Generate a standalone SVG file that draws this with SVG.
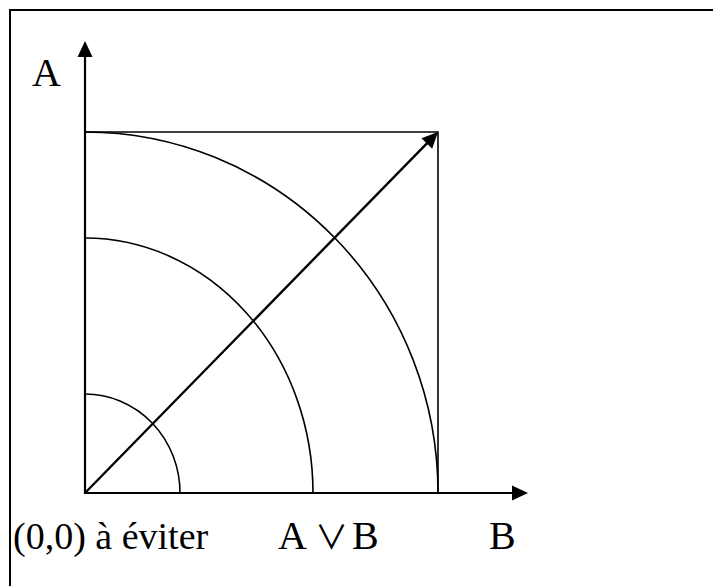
<svg xmlns="http://www.w3.org/2000/svg" width="713" height="586" viewBox="0 0 713 586">
<style>
  .frame{fill:none;stroke:#000;stroke-width:2}
  .axis{fill:none;stroke:#000;stroke-width:2.2}
  .thin{fill:none;stroke:#000;stroke-width:1.6}
  .diag{fill:none;stroke:#000;stroke-width:2.4}
  .lbl{font-family:"Liberation Serif","Times New Roman","DejaVu Serif",serif;font-size:40px;fill:#000}
  .op{font-family:"Noto Sans CJK JP","DejaVu Sans",sans-serif;font-size:33px;font-weight:400}
</style>
<defs>
  <marker id="arr" markerUnits="userSpaceOnUse" markerWidth="17" markerHeight="16" refX="4" refY="7.5" orient="auto" overflow="visible">
    <path d="M0,0 L16,7.5 L0,15 Z" fill="#000"/>
  </marker>
</defs>
<rect width="713" height="586" fill="#fff"/>
<rect class="frame" x="10" y="10" width="720" height="600"/>
<g id="connectors">
  <line id="axis-A" class="axis" x1="85" y1="494" x2="85" y2="53" marker-end="url(#arr)"/>
  <line id="axis-B" class="axis" x1="84" y1="493" x2="516" y2="493" marker-end="url(#arr)"/>
  <line id="diagonal" class="diag" x1="85" y1="493" x2="429.6" y2="140.6" marker-end="url(#arr)"/>
</g>
<g id="square">
  <path class="thin" d="M85,132 H438 V493"/>
</g>
<g id="arc-outer"><path class="thin" d="M85,132 A353,361 0 0 1 438,493"/></g>
<g id="arc-middle"><path class="thin" d="M85,238 A228,255 0 0 1 313,493"/></g>
<g id="arc-inner"><path class="thin" d="M85,394 A95,99 0 0 1 180,493"/></g>
<g id="label-A"><text class="lbl" x="32" y="86">A</text></g>
<g id="label-origin"><text class="lbl" x="13" y="549" style="font-size:38px">(0,0) à éviter</text></g>
<g id="label-AorB"><text class="lbl" y="549"><tspan x="278">A</tspan><tspan class="op" x="315">∨</tspan><tspan x="352">B</tspan></text></g>
<g id="label-B"><text class="lbl" x="489" y="549">B</text></g>
</svg>
